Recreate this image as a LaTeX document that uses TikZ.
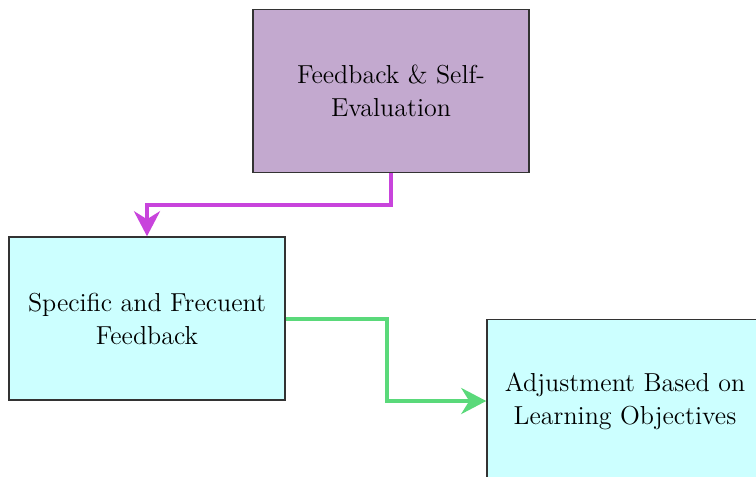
\documentclass[tikz,border=0pt]{standalone}
\usetikzlibrary{positioning}
\usetikzlibrary{arrows.meta}
\definecolor{lilac}{HTML}{C3A9CF}
\definecolor{paleaqua}{HTML}{CCFFFF}
\definecolor{violetline}{HTML}{C844DC}
\definecolor{greenline}{HTML}{5AD97A}
\tikzset{box/.style={draw=black!80,line width=0.75pt,minimum width=138pt,minimum height=81.5pt,
    align=center,inner sep=0pt,font=\fontsize{13}{16.5}\selectfont},
  link/.style={line width=2pt,-{Stealth[length=12.5pt,width=13pt,inset=4pt]}}}

\begin{document}
\begin{tikzpicture}[x=0.5pt,y=-0.5pt,on grid]
   \useasboundingbox (0,0) rectangle (756,477);
   \clip (0,0) rectangle (756,477);
   \node[box,fill=lilac] (fbse) at (391,91) {Feedback \& Self-\\Evaluation};
   \node[box,fill=paleaqua] (sfb) [below left=113.75pt and 122pt of fbse] {Specific and Frecuent\\Feedback};
   \node[box,fill=paleaqua] (adj) [below right=41.25pt and 239pt of sfb] {Adjustment Based on\\Learning Objectives};
   \draw[link,violetline] (fbse.south) -- ++(0,32) -| (sfb.north);
   \draw[link,greenline] (sfb.east) -- ++(101,0) |- (adj.west);
\end{tikzpicture}
\end{document}
